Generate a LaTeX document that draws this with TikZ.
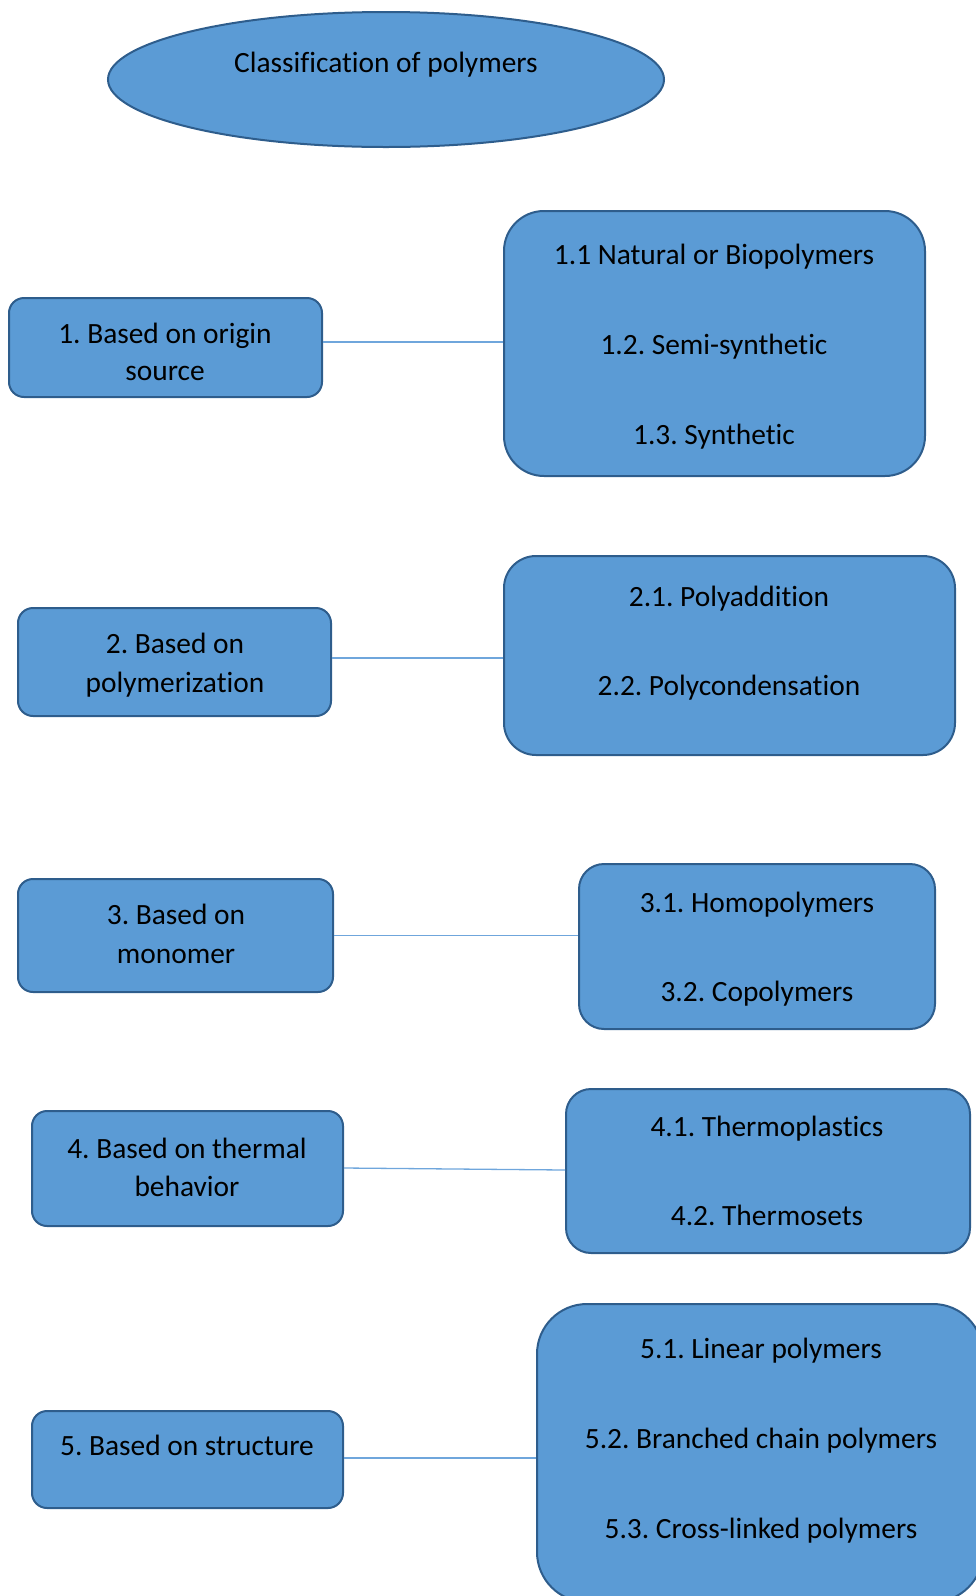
\documentclass[tikz,border=0pt]{standalone}
\usepackage{fontspec}
\setmainfont[Ligatures=NoCommon]{Carlito}
\usetikzlibrary{shapes.geometric}
\definecolor{boxfill}{HTML}{5B9BD5}
\definecolor{boxline}{HTML}{2E5D8C}
\definecolor{conn}{HTML}{6FA6DC}
\frenchspacing
\begin{document}
\begin{tikzpicture}[x=1pt,y=-1pt,
  every node/.style={font=\fontsize{29.4}{38}\selectfont, text=black},
  lbox/.style={draw=boxline, line width=2pt, fill=boxfill, rounded corners=15pt, inner sep=0pt},
  rbox/.style={draw=boxline, line width=2pt, fill=boxfill, inner sep=0pt},
  txt/.style={inner sep=0pt, anchor=base},
  conline/.style={draw=conn, line width=1.3pt}]
\useasboundingbox (0,0) rectangle (976,1596);
\clip (0,0) rectangle (976,1596);
% title
\node[ellipse, draw=boxline, line width=2pt, fill=boxfill, minimum width=556pt, minimum height=135pt] (title) at (386,79.5) {};
\node[txt] (tt) at (386,72) {Classification of polymers};
% left boxes
\node[lbox, minimum width=313pt, minimum height=99pt] (b1) at (165.5,347.5) {};
\node[txt] (b1a) at (165,343) {1. Based on origin};
\node[txt] (b1b) at (165,380) {source};
\node[lbox, minimum width=313pt, minimum height=108pt] (b2) at (174.5,662) {};
\node[txt] (b2a) at (175,653) {2. Based on};
\node[txt] (b2b) at (175,692) {polymerization};
\node[lbox, minimum width=315pt, minimum height=113pt] (b3) at (175.5,935.5) {};
\node[txt] (b3a) at (176,924) {3. Based on};
\node[txt] (b3b) at (176,963) {monomer};
\node[lbox, minimum width=311pt, minimum height=115pt] (b4) at (187.5,1168.5) {};
\node[txt] (b4a) at (187,1158) {4. Based on thermal};
\node[txt] (b4b) at (187,1196) {behavior};
\node[lbox, minimum width=311pt, minimum height=97pt] (b5) at (187.5,1459.5) {};
\node[txt] (b5a) at (187,1455) {5. Based on structure};
% right boxes
\node[rbox, rounded corners=40pt, minimum width=421pt, minimum height=265pt] (r1) at (714.5,343.5) {};
\node[txt] (r1a) at (714,264) {1.1 Natural or Biopolymers};
\node[txt] (r1b) at (714,354) {1.2. Semi-synthetic};
\node[txt] (r1c) at (714,444) {1.3. Synthetic};
\node[rbox, rounded corners=32pt, minimum width=451pt, minimum height=199pt] (r2) at (729.5,655.5) {};
\node[txt] (r2a) at (729,606) {2.1. Polyaddition};
\node[txt] (r2b) at (729,695) {2.2. Polycondensation};
\node[rbox, rounded corners=25pt, minimum width=356pt, minimum height=165pt] (r3) at (757,946.5) {};
\node[txt] (r3a) at (757,912) {3.1. Homopolymers};
\node[txt] (r3b) at (757,1001) {3.2. Copolymers};
\node[rbox, rounded corners=25pt, minimum width=404pt, minimum height=164pt] (r4) at (768,1171) {};
\node[txt] (r4a) at (767,1136) {4.1. Thermoplastics};
\node[txt] (r4b) at (767,1225) {4.2. Thermosets};
\node[rbox, rounded corners=50pt, minimum width=446pt, minimum height=298pt] (r5) at (760,1453) {};
\node[txt] (r5a) at (761,1358) {5.1. Linear polymers};
\node[txt] (r5b) at (761,1448) {5.2. Branched chain polymers};
\node[txt] (r5c) at (761,1538) {5.3. Cross-linked polymers};
% connectors
\draw[conline] (b1.east |- 0,342) -- (r1.west |- 0,342);
\draw[conline] (b2.east |- 0,658) -- (r2.west |- 0,658);
\draw[conline] (b3.east) -- (b3.east -| r3.west);
\draw[conline] (b4.east |- 0,1168) -- (r4.west |- 0,1170);
\draw[conline] (b5.east |- 0,1458) -- (r5.west |- 0,1458);
\end{tikzpicture}
\end{document}
